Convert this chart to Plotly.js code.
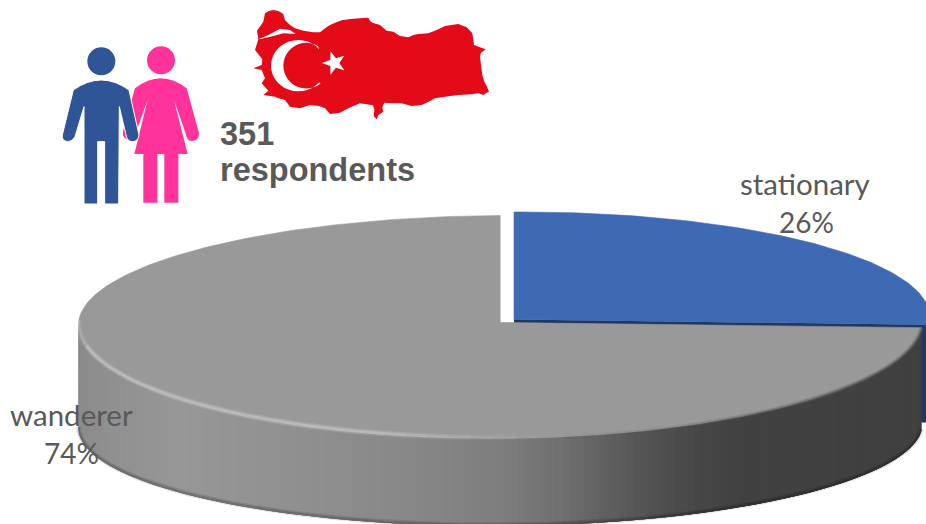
<!DOCTYPE html>
<html>
<head>
<meta charset="utf-8">
<script src="https://cdn.plot.ly/plotly-3.0.1.min.js"></script>
<style>html,body{margin:0;padding:0;background:#fff}#chart{width:926px;height:524px}</style>
</head>
<body>
<div id="chart"></div>
<script>
// Survey split shown as a tilted, shaded pie
const sliceLabels = ['stationary', 'wanderer'];
const sliceValues = [26, 74];
const respondentCount = 351;

const sweep = sliceValues[0] / (sliceValues[0] + sliceValues[1]) * 360;
const rad = d => d * Math.PI / 180;
const SHEAR = -0.005;

// Projection of a disc: the far half is slightly flatter than the near half
function rim(deg, g) {
  const c = Math.cos(rad(deg)), s = Math.sin(rad(deg));
  const dx = g.a * s;
  return [g.cx + dx, g.cy - (c > 0 ? g.far : g.near) * c + SHEAR * dx];
}
const topDisc = {cx: 500.5, cy: 322.5, a: 422, far: 107, near: 116};
const baseDisc = {cx: 500.5, cy: 426, a: 422, far: 100, near: 100};
const blueDisc = {cx: 514, cy: 319.5, a: 416, far: 107.5, near: 116};
const blueBase = {cx: 514, cy: 417, a: 416, far: 107.5, near: 116};

function range(from, to, step) {
  const out = [];
  for (let d = from; d < to; d += step) out.push(d);
  out.push(to);
  return out;
}
function poly(pts, color, edge) {
  return {
    type: 'scatter', mode: 'lines', fill: 'toself', fillcolor: color,
    x: pts.map(p => p[0]), y: pts.map(p => p[1]),
    line: {color: color, width: edge === undefined ? 0.6 : edge}, hoverinfo: 'skip', showlegend: false
  };
}
function stroke(pts, color, width) {
  return {
    type: 'scatter', mode: 'lines',
    x: pts.map(p => p[0]), y: pts.map(p => p[1]),
    line: {color: color, width: width}, hoverinfo: 'skip', showlegend: false
  };
}

// Wall shading follows the horizontal position
const wallStops = [[77,0x8a],[110,0x90],[180,0x97],[280,0x91],[400,0x88],[500,0x7e],[560,0x70],[600,0x62],[650,0x52],[700,0x46],[740,0x41],[930,0x40]];
function wallGray(x) {
  for (let i = 1; i < wallStops.length; i++) {
    if (x <= wallStops[i][0]) {
      const [x0, v0] = wallStops[i - 1], [x1, v1] = wallStops[i];
      const v = Math.round(v0 + (v1 - v0) * (x - x0) / (x1 - x0));
      return `rgb(${v},${v},${v})`;
    }
  }
  return 'rgb(64,64,64)';
}

const traces = [];

// Stationary slice: underside first, then its face
traces.push(poly([
  [blueDisc.cx, blueDisc.cy], rim(sweep, blueDisc), rim(sweep, blueBase), [blueBase.cx, blueBase.cy]
], '#1f3864'));
traces.push(poly([[blueDisc.cx, blueDisc.cy]].concat(range(0, sweep, 1).map(d => rim(d, blueDisc))), '#3e69b3'));

// Wanderer slice: curved wall made of overlapping strips, painted right to left
const wallAngles = range(sweep, 270, 1);
for (let i = 0; i < wallAngles.length - 1; i++) {
  const d0 = wallAngles[i], d1 = Math.min(270, d0 + 4);
  const span = range(d0, d1, 1);
  const upper = span.map(d => rim(d, topDisc));
  const lower = span.map(d => rim(d, baseDisc)).reverse();
  const xm = (rim(d0, topDisc)[0] + rim(wallAngles[i + 1], topDisc)[0]) / 2;
  traces.push(poly(upper.concat(lower), wallGray(xm), 0));
}
// Soft dark edge along the foot of the wall
const foot = range(sweep, 270, 2).map(d => { const p = rim(d, baseDisc); return [p[0], p[1] - 1]; });
traces.push(stroke(foot, 'rgba(0,0,0,0.10)', 5));
traces.push(stroke(foot, 'rgba(0,0,0,0.15)', 2.5));

// Wanderer face
traces.push(poly([[topDisc.cx, topDisc.cy]].concat(range(sweep, 360, 1).map(d => rim(d, topDisc))), '#999999'));

// Bevel on the rim: dark blend fading out towards the front, highlight on the left
const darkSteps = range(sweep, 172, 3);
for (let i = 0; i < darkSteps.length - 1; i++) {
  const seg = [rim(darkSteps[i], topDisc), rim(darkSteps[i + 1], topDisc)];
  const k = Math.min(1, (172 - darkSteps[i]) / 45);
  traces.push(stroke(seg, `rgba(90,90,90,${(0.35 * k).toFixed(3)})`, 4));
  traces.push(stroke(seg, `rgba(90,90,90,${(0.4 * k).toFixed(3)})`, 2));
}
const bevelSteps = range(172, 272, 3);
for (let i = 0; i < bevelSteps.length - 1; i++) {
  const seg = [rim(bevelSteps[i], topDisc), rim(bevelSteps[i + 1], topDisc)].map(p => [p[0], p[1] - 1]);
  const k = Math.min(1, (bevelSteps[i] - 172) / 25) * (bevelSteps[i] > 258 ? 0.55 : 1);
  traces.push(stroke(seg, `rgba(255,255,255,${(0.13 * k).toFixed(3)})`, 6));
  traces.push(stroke(seg, `rgba(255,255,255,${(0.22 * k).toFixed(3)})`, 3));
}

// Helpers for the pictograms: local drawing units to plot coordinates
const mapPt = (x, y) => [245 + x / 3, y / 3];
const iconPt = (x, y) => [55 + x / 3, 40 + y / 3];
function toPath(str, conv) {
  return str.replace(/(-?\d+(?:\.\d+)?) (-?\d+(?:\.\d+)?)/g, (m, a, b) => {
    const p = conv(+a, +b);
    return p[0].toFixed(2) + ',' + p[1].toFixed(2);
  });
}
const fillShape = (path, color, extra) => Object.assign({
  type: 'path', xref: 'x', yref: 'y', path: path, fillcolor: color, line: {width: 0}, layer: 'above'
}, extra || {});
function circle(conv, x, y, r, color) {
  const p0 = conv(x - r, y - r), p1 = conv(x + r, y + r);
  return {type: 'circle', xref: 'x', yref: 'y', x0: p0[0], y0: p0[1], x1: p1[0], y1: p1[1], fillcolor: color, line: {width: 0}, layer: 'above'};
}

const PINK = '#ff3399', NAVY = '#2f5597', FLAG = '#e30b17';
const womanBody = 'M240 145 Q318 85 395 145 L432 280 Q432 303 410 303 Q395 303 392 280 L357 180 L398 342 L370 342 L370 488 L328 488 L328 342 L307 342 L307 488 L265 488 L265 342 L238 342 L278 180 L240 285 Q225 305 210 295 Q200 285 205 270 Z';
const manBody = 'M55 150 Q139 90 222 150 L252 285 Q250 305 232 305 Q215 305 212 280 L193 200 L191 492 L149 492 L149 305 L128 305 L128 492 L87 492 L87 200 L60 290 Q52 305 38 305 Q20 303 22 285 Z';

// Outline of the country, traced clockwise from the north-west
const countryOutline = [
  [60,40],[72,33],[85,30],[100,33],[115,42],[120,60],[135,75],[150,85],[175,92],[205,97],[225,97],[240,85],[255,75],
  [270,68],[290,61],[310,58],[345,55],[370,53],[375,62],[382,68],[405,75],[425,92],[445,95],[465,108],[490,112],[505,105],
  [520,102],[550,100],[575,90],[600,78],[620,75],[640,72],[665,82],[682,100],[685,120],[687,135],[705,142],[722,148],[708,158],
  [705,170],[708,195],[712,225],[718,245],[725,258],[732,275],[722,280],[715,285],[700,280],[680,283],[640,285],[600,290],
  [570,295],[545,308],[530,315],[500,318],[470,310],[440,310],[418,308],[412,322],[415,335],[400,345],[395,358],[386,348],
  [388,330],[384,316],[345,310],[320,320],[300,330],[285,338],[255,342],[240,325],[222,318],[195,315],[165,325],[135,320],
  [120,300],[100,295],[90,290],[55,285],[70,272],[50,250],[60,235],[50,210],[25,205],[50,195],[52,178],[30,150],[40,118],[36,92],[55,65]
];
const marmara = [[40,118],[70,105],[105,86],[135,90],[152,102],[115,100],[85,108],[50,116]];
const toPoly = pts => 'M' + pts.map(p => { const q = mapPt(p[0], p[1]); return q[0].toFixed(2) + ',' + q[1].toFixed(2); }).join(' L') + ' Z';

// Crescent between two arcs, star with its tip facing the crescent
const crescent = [];
for (let d = -40; d >= -320; d -= 10) crescent.push([160 + 82 * Math.cos(rad(d)), 197 + 77 * Math.sin(rad(d))]);
for (let d = 51; d <= 309; d += 10) crescent.push([183.5 + 68.5 * Math.cos(rad(d)), 197 + 68.5 * Math.sin(rad(d))]);
const star = [];
for (let i = 0; i < 10; i++) {
  const r = i % 2 ? 15 : 37, d = 180 + i * 36;
  star.push([268 + r * Math.cos(rad(d)), 189 + r * Math.sin(rad(d))]);
}

const shapes = [
  fillShape(toPoly(countryOutline), FLAG),
  fillShape(toPoly(marmara), '#ffffff'),
  fillShape(toPoly(crescent), '#ffffff'),
  fillShape(toPoly(star), '#ffffff'),
  fillShape(toPath(womanBody, iconPt), PINK),
  circle(iconPt, 318, 61, 42, PINK),
  fillShape(toPath(manBody, iconPt), NAVY, {line: {color: '#ffffff', width: 1}}),
  circle(iconPt, 139, 64, 42, NAVY)
];

const labelFont = {family: 'Lato, sans-serif', size: 29.5, color: '#595959'};
const percentFont = {family: 'Lato, sans-serif', size: 28, color: '#595959'};
const boldFont = {family: '"Liberation Sans", Arial, sans-serif', size: 32.5, color: '#595959', weight: 700};
const note = (text, x, y, font, anchor) => ({
  text: text, x: x, y: y, xref: 'x', yref: 'y', showarrow: false,
  xanchor: anchor || 'center', yanchor: 'middle', font: font
});

const annotations = [
  note(sliceLabels[0], 805, 183, labelFont),
  note(sliceValues[0] + '%', 806, 222, percentFont),
  note(sliceLabels[1], 71, 414.5, labelFont),
  note(sliceValues[1] + '%', 71, 453, percentFont),
  note('<b>' + respondentCount + '</b>', 218, 134, boldFont, 'left'),
  note('<b>respondents</b>', 218, 170, boldFont, 'left')
];

const layout = {
  width: 926, height: 524,
  margin: {l: 0, r: 0, t: 0, b: 0},
  paper_bgcolor: '#ffffff', plot_bgcolor: '#ffffff',
  showlegend: false,
  xaxis: {range: [0, 926], visible: false, fixedrange: true},
  yaxis: {range: [524, 0], visible: false, fixedrange: true},
  shapes: shapes,
  annotations: annotations
};
Plotly.newPlot('chart', traces, layout, {displayModeBar: false, staticPlot: true});
</script>
</body>
</html>
